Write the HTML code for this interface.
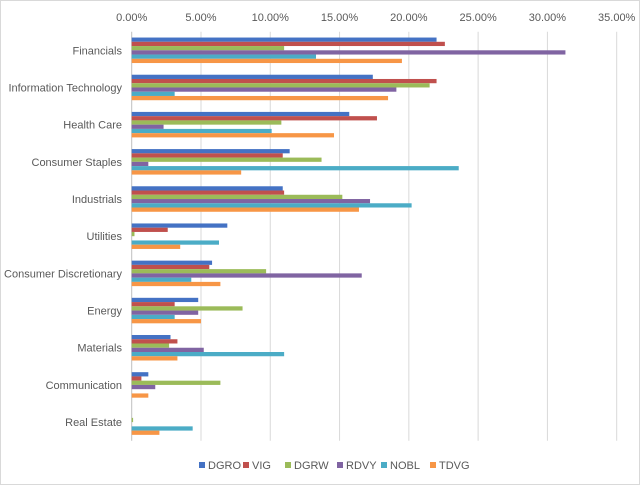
<!DOCTYPE html>
<html><head><meta charset="utf-8"><style>
body{margin:0;background:#fff;}
svg{display:block;font-family:"Liberation Sans",sans-serif;}
</style></head><body>
<svg id="chart" width="640" height="485">
<rect x="0.5" y="0.5" width="639" height="484" fill="#fff" stroke="#d9d9d9"/>
<g id="grid"></g><g id="bars"></g><g id="labels"></g><g id="legend"></g>
</svg>
<script>
const categories=["Financials","Information Technology","Health Care","Consumer Staples","Industrials","Utilities","Consumer Discretionary","Energy","Materials","Communication","Real Estate"];
const seriesNames=["DGRO","VIG","DGRW","RDVY","NOBL","TDVG"];
const DGRO=[22.0,17.4,15.7,11.4,10.9,6.9,5.8,4.8,2.8,1.2,0];
const VIG=[22.6,22.0,17.7,10.9,11.0,2.6,5.6,3.1,3.3,0.7,0];
const DGRW=[11.0,21.5,10.8,13.7,15.2,0.2,9.7,8.0,2.7,6.4,0.1];
const RDVY=[31.3,19.1,2.3,1.2,17.2,0,16.6,4.8,5.2,1.7,0];
const NOBL=[13.3,3.1,10.1,23.6,20.2,6.3,4.3,3.1,11.0,0,4.4];
const TDVG=[19.5,18.5,14.6,7.9,16.4,3.5,6.4,5.0,3.3,1.2,2.0];
const ticks=[0,5,10,15,20,25,30,35];
const series=[DGRO,VIG,DGRW,RDVY,NOBL,TDVG];
const colors=["#4472c4","#c0504d","#9bbb59","#8064a2","#4bacc6","#f79646"];
const NS="http://www.w3.org/2000/svg";
const x0=131.7,x1=616.7,yTop=31.7,yBot=440.7;
const xs=v=>x0+(v/35)*(x1-x0);
const band=(yBot-yTop)/categories.length, bh=4.25;
function mk(t,a,p){const e=document.createElementNS(NS,t);for(const k in a)e.setAttribute(k,a[k]);p.appendChild(e);return e;}
const g=document.getElementById('grid'),b=document.getElementById('bars'),l=document.getElementById('labels'),lg=document.getElementById('legend');
ticks.forEach(t=>{
 const ln=mk('line',{x1:xs(t),x2:xs(t),y1:yTop,y2:yBot,stroke:t===0?'#bfbfbf':'#d9d9d9','stroke-width':1},g);
 
 
 const tx=mk('text',{x:xs(t),y:21,'text-anchor':'middle','font-size':11,fill:'#595959'},l);
 tx.textContent=t.toFixed(2)+'%';
 
 
});
categories.forEach((c,i)=>{
 const cy=yTop+band*(i+0.5);
 const tx=mk('text',{x:122,y:cy+4,'text-anchor':'end','font-size':11,fill:'#595959'},l);
 tx.textContent=c;
 
 
 series.forEach((s,j)=>{
  const y=cy-3*bh+j*bh;
  const r=mk('rect',{x:x0,y:y,width:Math.max(0,xs(s[i])-x0),height:bh,fill:colors[j]},b);
  
  
 });
});
const lx=[199,243,285,337,381,430];
seriesNames.forEach((n,j)=>{
 const gi=mk('g',{},lg);
 
 
 mk('rect',{x:lx[j],y:462,width:6,height:6,fill:colors[j]},gi);
 const t=mk('text',{x:lx[j]+9,y:469,'font-size':11,fill:'#595959'},gi);
 t.textContent=n;
});
</script>
</body></html>
